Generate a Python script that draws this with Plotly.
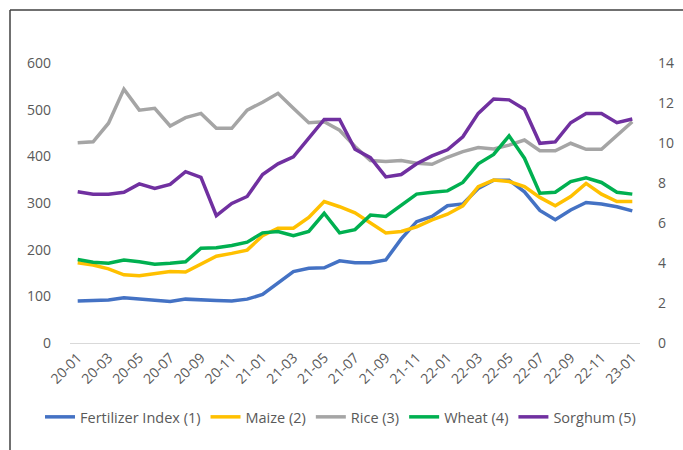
import plotly.graph_objects as go

months = [f"{y:02d}-{m:02d}" for y in (20, 21, 22) for m in range(1, 13)] + ["23-01"]
tick_labels = months[::2]

fertilizer = [90, 91, 92, 97, 94, 91, 89, 94, 92, 91, 90, 94, 104, 128, 153, 160, 161, 176, 172,
              172, 178, 223, 260, 271, 294, 298, 331, 349, 349, 324, 284, 264, 285, 301, 298, 292, 283]
maize = [172, 167, 159, 146, 144, 149, 153, 152, 169, 186, 192, 199, 230, 246, 246, 269, 303, 292, 279,
         258, 236, 239, 249, 264, 276, 294, 335, 349, 346, 335, 312, 294, 314, 342, 319, 303, 303]
rice = [429, 431, 471, 544, 499, 503, 465, 483, 492, 460, 460, 499, 516, 535, 503, 472, 474, 456, 421,
        391, 389, 391, 385, 383, 398, 410, 419, 416, 424, 435, 412, 412, 428, 415, 415, 444, 474]
wheat = [179, 173, 171, 178, 174, 169, 171, 174, 203, 204, 209, 216, 236, 239, 230, 239, 278, 236, 243,
         274, 271, 296, 319, 323, 326, 344, 384, 404, 444, 396, 321, 323, 346, 354, 344, 323, 319]
sorghum = [324, 319, 319, 323, 341, 331, 340, 367, 355, 273, 299, 314, 361, 384, 399, 439, 479, 479, 415,
           397, 356, 361, 384, 401, 414, 442, 492, 523, 521, 501, 428, 431, 472, 492, 492, 472, 480]

series_names = ["Fertilizer Index (1)", "Maize (2)", "Rice (3)", "Wheat (4)", "Sorghum (5)"]
series_values = [fertilizer, maize, rice, wheat, sorghum]
colors = ["#4472C4", "#FFC000", "#A5A5A5", "#00B050", "#7030A0"]

left_ticks = [0, 100, 200, 300, 400, 500, 600]
right_ticks = [0, 2, 4, 6, 8, 10, 12, 14]

FONT = "Open Sans"
GREY = "#595959"
TICK_SIZE = 14
LEGEND_SIZE = 14.5

fig = go.Figure()
for name, vals, col in zip(series_names, series_values, colors):
    fig.add_trace(go.Scatter(x=months, y=vals, name=name, mode="lines",
                             line=dict(color=col, width=3.5)))
# invisible trace so the secondary axis is drawn
fig.add_trace(go.Scatter(x=[months[0]], y=[None], yaxis="y2", showlegend=False,
                         hoverinfo="skip", mode="lines"))

fig.update_layout(
    width=683, height=450,
    margin=dict(l=70, r=43, t=63, b=107, autoexpand=False),
    paper_bgcolor="white", plot_bgcolor="white",
    font=dict(family=FONT, size=TICK_SIZE, color=GREY),
    xaxis=dict(type="category", categoryorder="array", categoryarray=months,
               range=[-0.5, len(months) - 0.5],
               tickmode="array", tickvals=tick_labels, ticktext=tick_labels,
               tickangle=-45, showgrid=False, showline=True, linecolor="#D9D9D9",
               linewidth=1.3, ticks="", zeroline=False, automargin=False,
               tickfont=dict(family=FONT, size=TICK_SIZE, color=GREY)),
    yaxis=dict(range=[0, 600], tickvals=left_ticks, showgrid=False, zeroline=False,
               showline=False, ticks="", ticklabelstandoff=18, automargin=False,
               tickfont=dict(family=FONT, size=TICK_SIZE, color=GREY)),
    yaxis2=dict(range=[0, 14], tickvals=right_ticks, overlaying="y", side="right",
                showgrid=False, zeroline=False, showline=False, ticks="",
                ticklabelstandoff=17, automargin=False,
                tickfont=dict(family=FONT, size=TICK_SIZE, color=GREY)),
    legend=dict(orientation="h", x=-0.0526, xanchor="left", y=-0.264, yanchor="middle",
                font=dict(family=FONT, size=LEGEND_SIZE, color=GREY),
                tracegroupgap=0, bgcolor="rgba(0,0,0,0)"),
    showlegend=True,
    shapes=[
        dict(type="line", xref="paper", yref="paper", x0=-0.10526, x1=1.08, y0=1.18929, y1=1.18929,
             line=dict(color="#404040", width=1.5)),
        dict(type="line", xref="paper", yref="paper", x0=-0.10526, x1=-0.10526, y0=1.18929, y1=-0.4,
             line=dict(color="#404040", width=1.5)),
    ],
)

fig.write_html("out.html", config={"displayModeBar": False},
               post_script="document.body.style.margin='0';")
